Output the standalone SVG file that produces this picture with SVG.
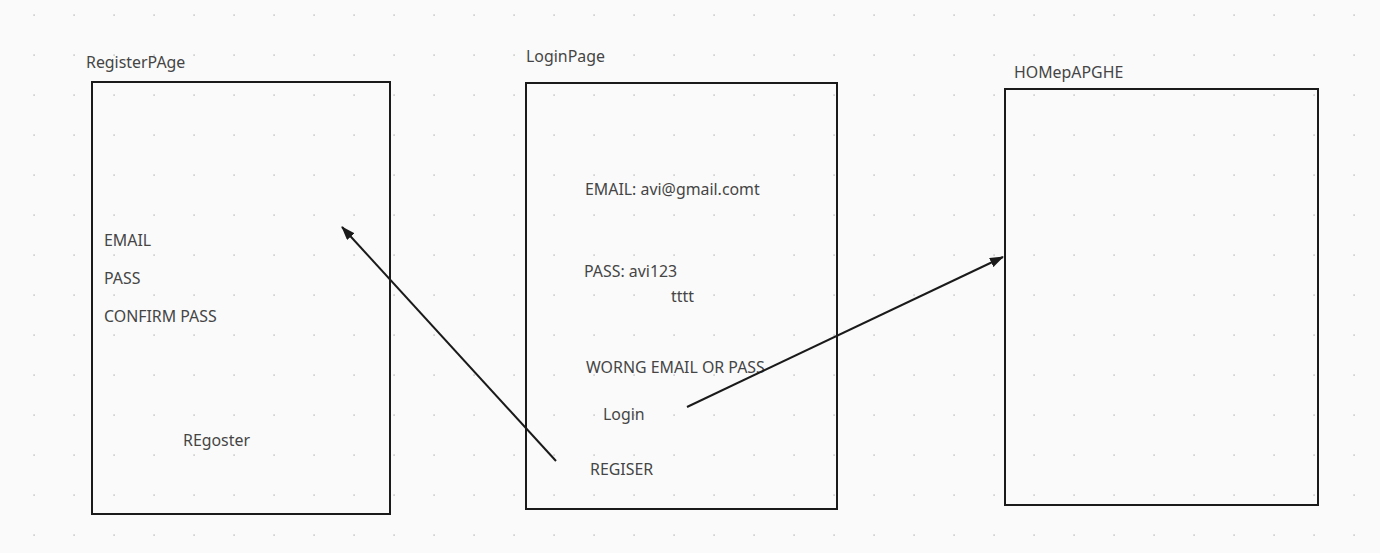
<svg xmlns="http://www.w3.org/2000/svg" width="1380" height="553" viewBox="0 0 1380 553">
<defs>
<pattern id="dots" x="0" y="0" width="40" height="40" patternUnits="userSpaceOnUse">
<rect x="33.4" y="14.4" width="1.4" height="1.4" fill="#bdbdbd"/>
</pattern>
<marker id="arr" viewBox="0 0 14 10" refX="13" refY="5" markerWidth="14" markerHeight="10" markerUnits="userSpaceOnUse" orient="auto">
<path d="M0,0 L14,5 L0,10 Z" fill="#1a1a1a"/>
</marker>
<style>
.box{fill:none;stroke:#1a1a1a;stroke-width:2}
.t{font-family:"Noto Sans","Open Sans","DejaVu Sans",sans-serif;font-size:15.9px;fill:#454545}
.c{fill:none;stroke:#1a1a1a;stroke-width:2;marker-end:url(#arr)}
</style>
</defs>
<rect width="1380" height="553" fill="#fafafa"/>
<rect width="1380" height="553" fill="url(#dots)"/>
<g id="register-page">
<rect class="box" x="92" y="82" width="298" height="432"/>
<text class="t" x="86" y="68">RegisterPAge</text>
<text class="t" x="104" y="246">EMAIL</text>
<text class="t" x="104" y="284">PASS</text>
<text class="t" x="104" y="322">CONFIRM PASS</text>
<text class="t" x="183" y="446">REgoster</text>
</g>
<g id="login-page">
<rect class="box" x="526" y="83" width="311" height="426"/>
<text class="t" x="526" y="62">LoginPage</text>
<text class="t" x="585" y="195">EMAIL: avi@gmail.comt</text>
<text class="t" x="584" y="277">PASS: avi123</text>
<text class="t" x="671" y="302">tttt</text>
<text class="t" x="586" y="373">WORNG EMAIL OR PASS</text>
<text class="t" x="603" y="420">Login</text>
<text class="t" x="590" y="475">REGISER</text>
</g>
<g id="home-page">
<rect class="box" x="1005" y="89" width="313" height="416"/>
<text class="t" x="1014" y="78">HOMepAPGHE</text>
</g>
<g id="connectors">
<line class="c" x1="556" y1="461" x2="342" y2="227"/>
<line class="c" x1="687" y1="407" x2="1003" y2="257"/>
</g>
</svg>
